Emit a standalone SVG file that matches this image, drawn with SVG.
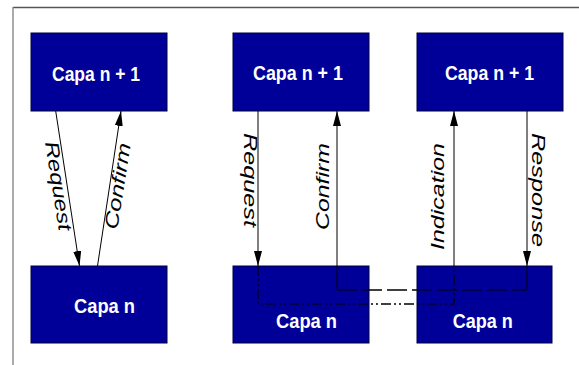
<svg xmlns="http://www.w3.org/2000/svg" width="579" height="365" viewBox="0 0 579 365">
  <style>
    .box { fill: #000099; stroke: #000040; stroke-width: 1; }
    .title { font-family: "Liberation Sans", Arial, sans-serif; font-weight: bold; font-size: 21px; fill: #ffffff; }
    .lbl { font-family: "Liberation Sans", Arial, sans-serif; font-style: italic; font-size: 19px; fill: #000000; }
    .wire { stroke: #000000; stroke-width: 1; fill: none; }
    .dash { stroke: #000000; stroke-width: 1.2; fill: none; stroke-dasharray: 20,5; }
    .dashdot { stroke: #000000; stroke-width: 1.2; fill: none; stroke-dasharray: 10,3,2,3,2,3; }
  </style>
  <defs>
    <marker id="head" viewBox="0 0 15 8" refX="15" refY="4" markerWidth="15" markerHeight="8" markerUnits="userSpaceOnUse" orient="auto">
      <path d="M0,0 L15,4 L0,8 z" fill="#000000"/>
    </marker>
  </defs>

  <!-- frame -->
  <g id="frame">
    <line x1="13" y1="7.5" x2="579" y2="7.5" stroke="#555555" stroke-width="1.6"/>
    <line x1="13" y1="7" x2="13" y2="365" stroke="#888888" stroke-width="1.4"/>
  </g>

  <!-- connectors between the two lower boxes -->
  <g id="connectors">
    <line class="wire" x1="55.7" y1="111" x2="79.5" y2="266" marker-end="url(#head)"/>
    <line class="wire" x1="97.5" y1="266" x2="121" y2="111" marker-end="url(#head)"/>
    <path class="dashdot" d="M258,266 V304 H454 V266"/>
    <path class="dash" d="M337,290 H527"/>
  </g>

  <!-- left panel -->
  <g id="upper-1">
    <rect class="box" x="31" y="33" width="136" height="78"/>
    <text class="title" x="96" y="81" text-anchor="middle" textLength="88" lengthAdjust="spacingAndGlyphs">Capa n + 1</text>
  </g>
  <g id="lower-1">
    <rect class="box" x="31" y="266" width="136" height="77"/>
    <text class="title" x="104.5" y="313" text-anchor="middle" textLength="61" lengthAdjust="spacingAndGlyphs">Capa n</text>
  </g>

  <!-- middle panel -->
  <g id="upper-2">
    <rect class="box" x="233" y="33" width="136" height="78"/>
    <text class="title" x="298" y="80" text-anchor="middle" textLength="90" lengthAdjust="spacingAndGlyphs">Capa n + 1</text>
  </g>
  <g id="lower-2">
    <rect class="box" x="233" y="266" width="136" height="77"/>
    <text class="title" x="306.5" y="328" text-anchor="middle" textLength="61" lengthAdjust="spacingAndGlyphs">Capa n</text>
  </g>

  <!-- right panel -->
  <g id="upper-3">
    <rect class="box" x="417" y="33" width="146" height="78"/>
    <text class="title" x="489.5" y="80" text-anchor="middle" textLength="89" lengthAdjust="spacingAndGlyphs">Capa n + 1</text>
  </g>
  <g id="lower-3">
    <rect class="box" x="417" y="266" width="135" height="77"/>
    <text class="title" x="482.7" y="328" text-anchor="middle" textLength="60" lengthAdjust="spacingAndGlyphs">Capa n</text>
  </g>

  <!-- primitives drawn over the boxes -->
  <g id="primitives">
    <line class="wire" x1="258" y1="111" x2="258" y2="266" marker-end="url(#head)"/>
    <line class="wire" x1="337" y1="290" x2="337" y2="111" marker-end="url(#head)"/>
    <line class="wire" x1="454" y1="266" x2="454" y2="111" marker-end="url(#head)"/>
    <line class="wire" x1="527" y1="111" x2="527" y2="266" marker-end="url(#head)"/>
    <line class="wire" x1="527" y1="266" x2="527" y2="290"/>
    <path class="dashdot" d="M258,266 V304 H454 V266"/>
    <path class="dash" d="M337,290 H527"/>
  </g>

  <!-- labels -->
  <g id="labels">
    <text class="lbl" transform="translate(52,187) rotate(81)" text-anchor="middle" textLength="90" lengthAdjust="spacingAndGlyphs">Request</text>
    <text class="lbl" transform="translate(124,187) rotate(-81)" text-anchor="middle" textLength="87" lengthAdjust="spacingAndGlyphs">Confirm</text>
    <text class="lbl" transform="translate(244,180) rotate(90)" text-anchor="middle" textLength="94" lengthAdjust="spacingAndGlyphs">Request</text>
    <text class="lbl" transform="translate(329,186.5) rotate(-90)" text-anchor="middle" textLength="87" lengthAdjust="spacingAndGlyphs">Confirm</text>
    <text class="lbl" transform="translate(443.5,196.5) rotate(-90)" text-anchor="middle" textLength="107" lengthAdjust="spacingAndGlyphs">Indication</text>
    <text class="lbl" transform="translate(532,190) rotate(90)" text-anchor="middle" textLength="114" lengthAdjust="spacingAndGlyphs">Response</text>
  </g>
</svg>
